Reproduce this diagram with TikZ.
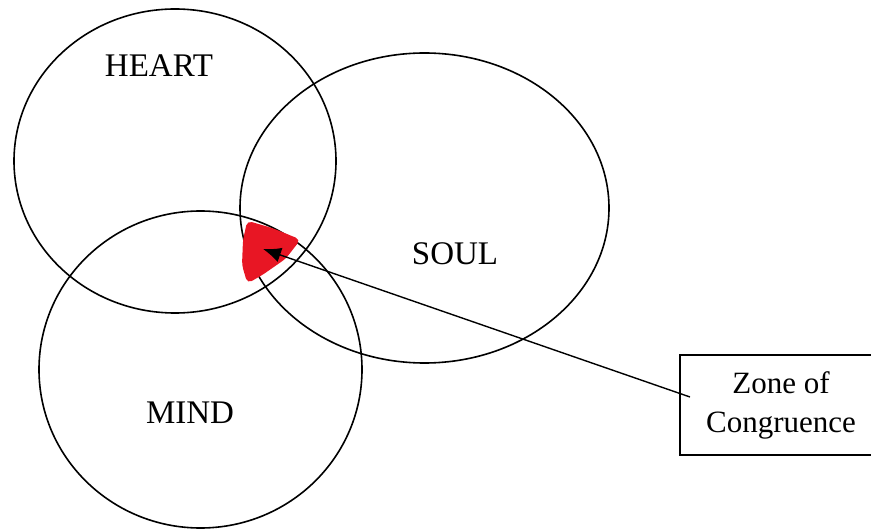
\documentclass[tikz,border=0pt]{standalone}
\usepackage{fontspec}
\setmainfont{Liberation Serif}
\usetikzlibrary{arrows.meta}
\definecolor{zonered}{RGB}{232,22,36}
\begin{document}
\begin{tikzpicture}[x=1pt,y=-1pt,
  ring/.style={draw=black,line width=1.6pt},
  lbl/.style={font=\fontsize{33}{38}\selectfont,inner sep=0pt},
  boxnode/.style={draw=black,line width=1.2pt,minimum width=202pt,minimum height=100pt,align=center,font=\fontsize{31}{39}\selectfont,inner sep=0pt},
  pointer/.style={draw=black,line width=1.4pt,-{Latex[length=18pt,width=15pt]}}]
\useasboundingbox (0,0) rectangle (871,529);
\draw[ring] (175,161) ellipse [x radius=161, y radius=152];
\draw[ring] (424.5,208) ellipse [x radius=184.5, y radius=155];
\draw[ring] (200.5,369.5) ellipse [x radius=161.5, y radius=158.5];
\fill[zonered,draw=zonered,line width=2pt,rounded corners=4pt]
  (248,222) -- (272,229) -- (299,240) -- (285,258) -- (262,274) -- (248,282) -- (243,265) -- (244,240) -- cycle;
\node[lbl] (heart) at (159,66) {HEART};
\node[lbl] (soul) at (455,254) {SOUL};
\node[lbl] (mind) at (190,413) {MIND};
\node[boxnode] (zone) at (781,405) {Zone of\\Congruence};
\coordinate (start) at (690,397);
\coordinate (tip) at (263,249);
\draw[pointer] (start) -- (tip);
\end{tikzpicture}
\end{document}
